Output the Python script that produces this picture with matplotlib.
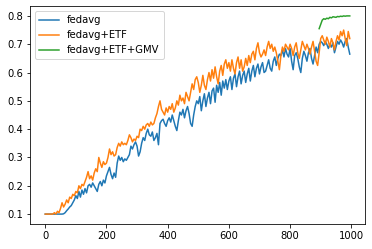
import numpy as np
import matplotlib
matplotlib.use('Agg')
import matplotlib.pyplot as plt

# test accuracy, evaluated every 5 rounds
eval_every = 5

fedavg = [
    0.100, 0.100, 0.100, 0.100, 0.100, 0.100, 0.100, 0.100, 0.100, 0.100, 0.100, 0.100, 0.101, 0.105, 0.112, 0.118, 0.125, 0.130, 0.140, 0.150,
    0.165, 0.155, 0.180, 0.160, 0.185, 0.170, 0.190, 0.175, 0.200, 0.205, 0.195, 0.210, 0.200, 0.190, 0.180, 0.205, 0.215, 0.200, 0.220, 0.210,
    0.235, 0.250, 0.265, 0.240, 0.225, 0.245, 0.230, 0.280, 0.305, 0.290, 0.300, 0.285, 0.295, 0.290, 0.300, 0.310, 0.340, 0.330, 0.345, 0.355,
    0.340, 0.305, 0.320, 0.350, 0.370, 0.360, 0.385, 0.400, 0.380, 0.375, 0.390, 0.360, 0.370, 0.385, 0.345, 0.420, 0.430, 0.435, 0.420, 0.410,
    0.430, 0.440, 0.425, 0.450, 0.430, 0.410, 0.395, 0.430, 0.460, 0.450, 0.470, 0.440, 0.465, 0.480, 0.455, 0.420, 0.410, 0.450, 0.480, 0.500,
    0.490, 0.515, 0.465, 0.500, 0.525, 0.480, 0.510, 0.530, 0.490, 0.535, 0.545, 0.495, 0.555, 0.530, 0.565, 0.520, 0.570, 0.545, 0.575, 0.540,
    0.570, 0.585, 0.540, 0.580, 0.595, 0.550, 0.585, 0.605, 0.560, 0.590, 0.605, 0.565, 0.595, 0.615, 0.570, 0.605, 0.625, 0.585, 0.615, 0.630,
    0.595, 0.620, 0.635, 0.600, 0.605, 0.625, 0.645, 0.615, 0.605, 0.640, 0.655, 0.625, 0.650, 0.665, 0.660, 0.680, 0.655, 0.685, 0.665, 0.655,
    0.685, 0.640, 0.610, 0.660, 0.670, 0.650, 0.620, 0.600, 0.650, 0.675, 0.660, 0.640, 0.670, 0.685, 0.650, 0.630, 0.660, 0.690, 0.670, 0.700,
    0.710, 0.705, 0.695, 0.710, 0.700, 0.685, 0.700, 0.690, 0.705, 0.670, 0.690, 0.710, 0.700, 0.715, 0.705, 0.690, 0.710, 0.720, 0.690, 0.665,
]

fedavg_etf = [
    0.100, 0.100, 0.100, 0.100, 0.100, 0.100, 0.105, 0.100, 0.110, 0.105, 0.120, 0.140, 0.125, 0.135, 0.150, 0.140, 0.160, 0.155, 0.170, 0.165,
    0.180, 0.175, 0.200, 0.190, 0.205, 0.200, 0.215, 0.230, 0.250, 0.225, 0.235, 0.220, 0.245, 0.260, 0.250, 0.300, 0.280, 0.265, 0.285, 0.275,
    0.280, 0.300, 0.330, 0.310, 0.320, 0.305, 0.310, 0.335, 0.350, 0.340, 0.355, 0.345, 0.350, 0.345, 0.360, 0.380, 0.370, 0.355, 0.365, 0.360,
    0.375, 0.370, 0.400, 0.395, 0.410, 0.400, 0.415, 0.420, 0.410, 0.425, 0.415, 0.420, 0.440, 0.455, 0.480, 0.500, 0.470, 0.460, 0.450, 0.475,
    0.460, 0.480, 0.470, 0.490, 0.460, 0.475, 0.500, 0.485, 0.520, 0.500, 0.510, 0.490, 0.530, 0.515, 0.500, 0.530, 0.560, 0.540, 0.575, 0.585,
    0.565, 0.530, 0.555, 0.590, 0.555, 0.540, 0.575, 0.600, 0.570, 0.610, 0.580, 0.620, 0.585, 0.560, 0.605, 0.625, 0.590, 0.630, 0.645, 0.615,
    0.635, 0.605, 0.645, 0.615, 0.595, 0.635, 0.655, 0.615, 0.645, 0.605, 0.620, 0.650, 0.625, 0.660, 0.635, 0.665, 0.675, 0.645, 0.685, 0.705,
    0.670, 0.655, 0.665, 0.680, 0.660, 0.690, 0.710, 0.685, 0.700, 0.675, 0.690, 0.670, 0.640, 0.610, 0.660, 0.690, 0.675, 0.700, 0.690, 0.680,
    0.700, 0.685, 0.660, 0.690, 0.705, 0.670, 0.650, 0.680, 0.710, 0.695, 0.680, 0.700, 0.685, 0.665, 0.690, 0.710, 0.675, 0.640, 0.625, 0.670,
    0.720, 0.730, 0.715, 0.700, 0.725, 0.710, 0.690, 0.720, 0.705, 0.680, 0.710, 0.730, 0.715, 0.745, 0.730, 0.750, 0.720, 0.695, 0.745, 0.720,
]

# GMV run only starts at round 895
gmv_start = 895
fedavg_etf_gmv = [
    0.755, 0.770, 0.785, 0.790, 0.788, 0.792, 0.790, 0.795, 0.793, 0.797, 0.796,
    0.795, 0.798, 0.797, 0.799, 0.798, 0.800, 0.799, 0.800, 0.800, 0.800,
]

rounds = np.arange(len(fedavg)) * eval_every
gmv_rounds = gmv_start + np.arange(len(fedavg_etf_gmv)) * eval_every

fig = plt.figure(figsize=(372 / 72, 249 / 72), dpi=72)
ax = fig.add_axes([30 / 372, 25 / 249, 335 / 372, 218 / 249])

ax.plot(rounds, fedavg, label='fedavg')
ax.plot(rounds, fedavg_etf, label='fedavg+ETF')
ax.plot(gmv_rounds, fedavg_etf_gmv, label='fedavg+ETF+GMV')
ax.legend(loc='upper left')

fig.savefig('out.png', dpi=72)
